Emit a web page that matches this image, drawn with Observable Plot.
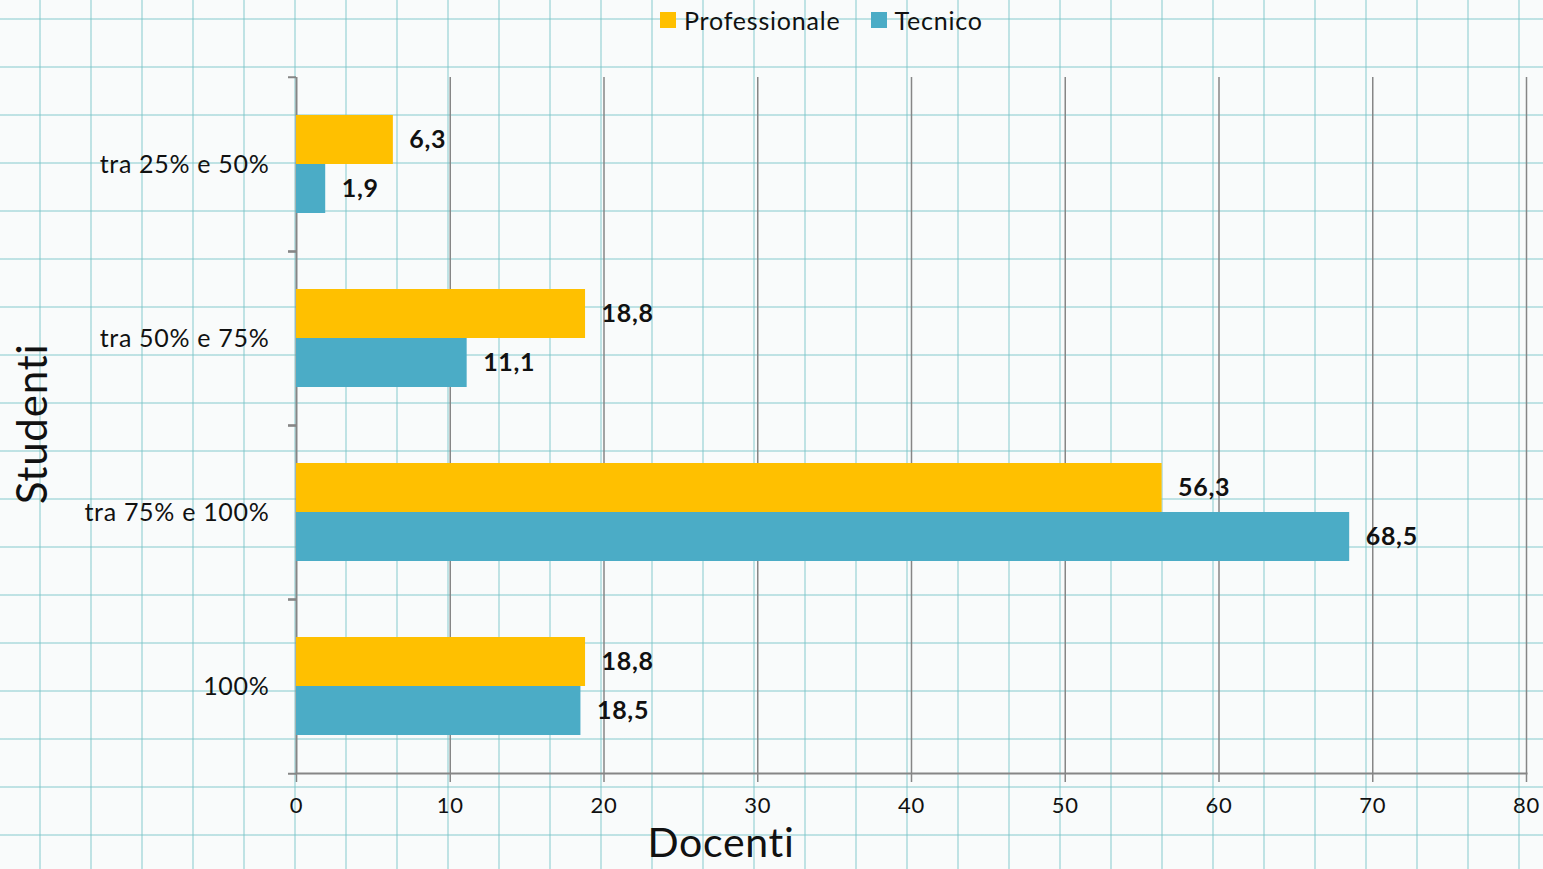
<!DOCTYPE html>
<html><head><meta charset="utf-8">
<script src="https://cdn.jsdelivr.net/npm/d3@7"></script>
<script src="https://cdn.jsdelivr.net/npm/@observablehq/plot@0.6"></script>
<style>
html,body{margin:0;padding:0;}
body{
  width:1543px;height:869px;overflow:hidden;
  background-color:#f9fbfb;
  background-image:
    linear-gradient(to right, rgba(120,196,200,0.45) 2px, transparent 2px),
    linear-gradient(to bottom, rgba(120,196,200,0.45) 2px, transparent 2px);
  background-size:51px 48px;
  background-position:39px 18px;
  font-family:Lato, "Open Sans", sans-serif;
}
#wrap{position:relative;width:1543px;height:869px;}
#chart{position:absolute;left:0;top:0;}
#legend{position:absolute;left:660px;top:5px;display:flex;align-items:center;font-size:25px;letter-spacing:0.8px;color:#111;z-index:2;}
#legend .item{display:flex;align-items:center;margin-right:30px;}
#legend .sw{width:16px;height:16px;margin-right:8px;}
#xtitle{position:absolute;left:721px;top:817px;transform:translateX(-50%);font-size:41px;letter-spacing:0.7px;line-height:normal;color:#111;white-space:nowrap;}
#ytitle{position:absolute;left:31px;top:424px;transform:translate(-50%,-50%) rotate(-90deg);font-size:42px;letter-spacing:0.8px;line-height:1;color:#111;white-space:nowrap;}
</style>
</head><body>
<div id="wrap">
  <div id="chart"></div>
  <div id="legend"></div>
  <div id="xtitle">Docenti</div>
  <div id="ytitle">Studenti</div>
</div>
<script>
const categories = ["tra 25% e 50%", "tra 50% e 75%", "tra 75% e 100%", "100%"];
const series = ["Professionale", "Tecnico"];
const professionale = [6.3, 18.8, 56.3, 18.8];
const tecnico = [1.9, 11.1, 68.5, 18.5];
const xTicks = [0, 10, 20, 30, 40, 50, 60, 70, 80];
const colors = ["#FFC000", "#4BACC6"];

const rows = categories.flatMap((c, i) => [
  {cat: c, series: series[0], value: professionale[i]},
  {cat: c, series: series[1], value: tecnico[i]}
]);
const fmt = v => v.toFixed(1).replace(".", ",");

const W = 1543, H = 869, mt = 76, mb = 95, ml = 296, mr = 17;
const halfBand = (H - mt - mb) / categories.length / 2;
const gray = "#868686";

const chart = Plot.plot({
  width: W, height: H,
  marginTop: mt, marginBottom: mb, marginLeft: ml, marginRight: mr,
  style: {background: "transparent", fontFamily: "Lato, 'Open Sans', sans-serif", color: "#111", letterSpacing: "0.7px"},
  x: {domain: [0, 80], axis: null},
  y: {domain: series, axis: null, paddingInner: 0, paddingOuter: 0.745},
  fy: {domain: categories, padding: 0, axis: null},
  color: {domain: series, range: colors},
  marks: [
    Plot.ruleX(xTicks.slice(1), {stroke: gray, strokeWidth: 1.5}),
    Plot.ruleX([0], {stroke: gray, strokeWidth: 2}),
    Plot.barX(rows, {x: "value", y: "series", fy: "cat", fill: "series"}),
    Plot.text(rows, {x: "value", y: "series", fy: "cat", text: d => fmt(d.value), dx: 16, textAnchor: "start", fontWeight: "bold", fontSize: 25, fill: "#111"}),
    Plot.axisFy({anchor: "left", tickSize: 0, tickPadding: 27, fontSize: 25, label: null}),
    Plot.axisFy({anchor: "left", tickSize: 8, tickFormat: () => "", dy: -halfBand, stroke: gray, strokeWidth: 2, label: null}),
    Plot.axisFy({anchor: "left", tickSize: 8, tickFormat: () => "", dy: halfBand, stroke: gray, strokeWidth: 2, label: null}),
    Plot.axisX({ticks: xTicks, tickSize: 9, tickPadding: 15, fontSize: 22, tickFormat: d => String(d), stroke: gray, strokeWidth: 1.5, label: null}),
    Plot.frame({anchor: "bottom", facetAnchor: "bottom", stroke: gray, strokeWidth: 2})
  ]
});
document.getElementById("chart").appendChild(chart);

const legend = document.getElementById("legend");
series.forEach((s, i) => {
  const it = document.createElement("div");
  it.className = "item";
  const sw = document.createElement("span");
  sw.className = "sw";
  sw.style.background = colors[i];
  const t = document.createElement("span");
  t.textContent = s;
  it.appendChild(sw); it.appendChild(t);
  legend.appendChild(it);
});
</script>
</body></html>
